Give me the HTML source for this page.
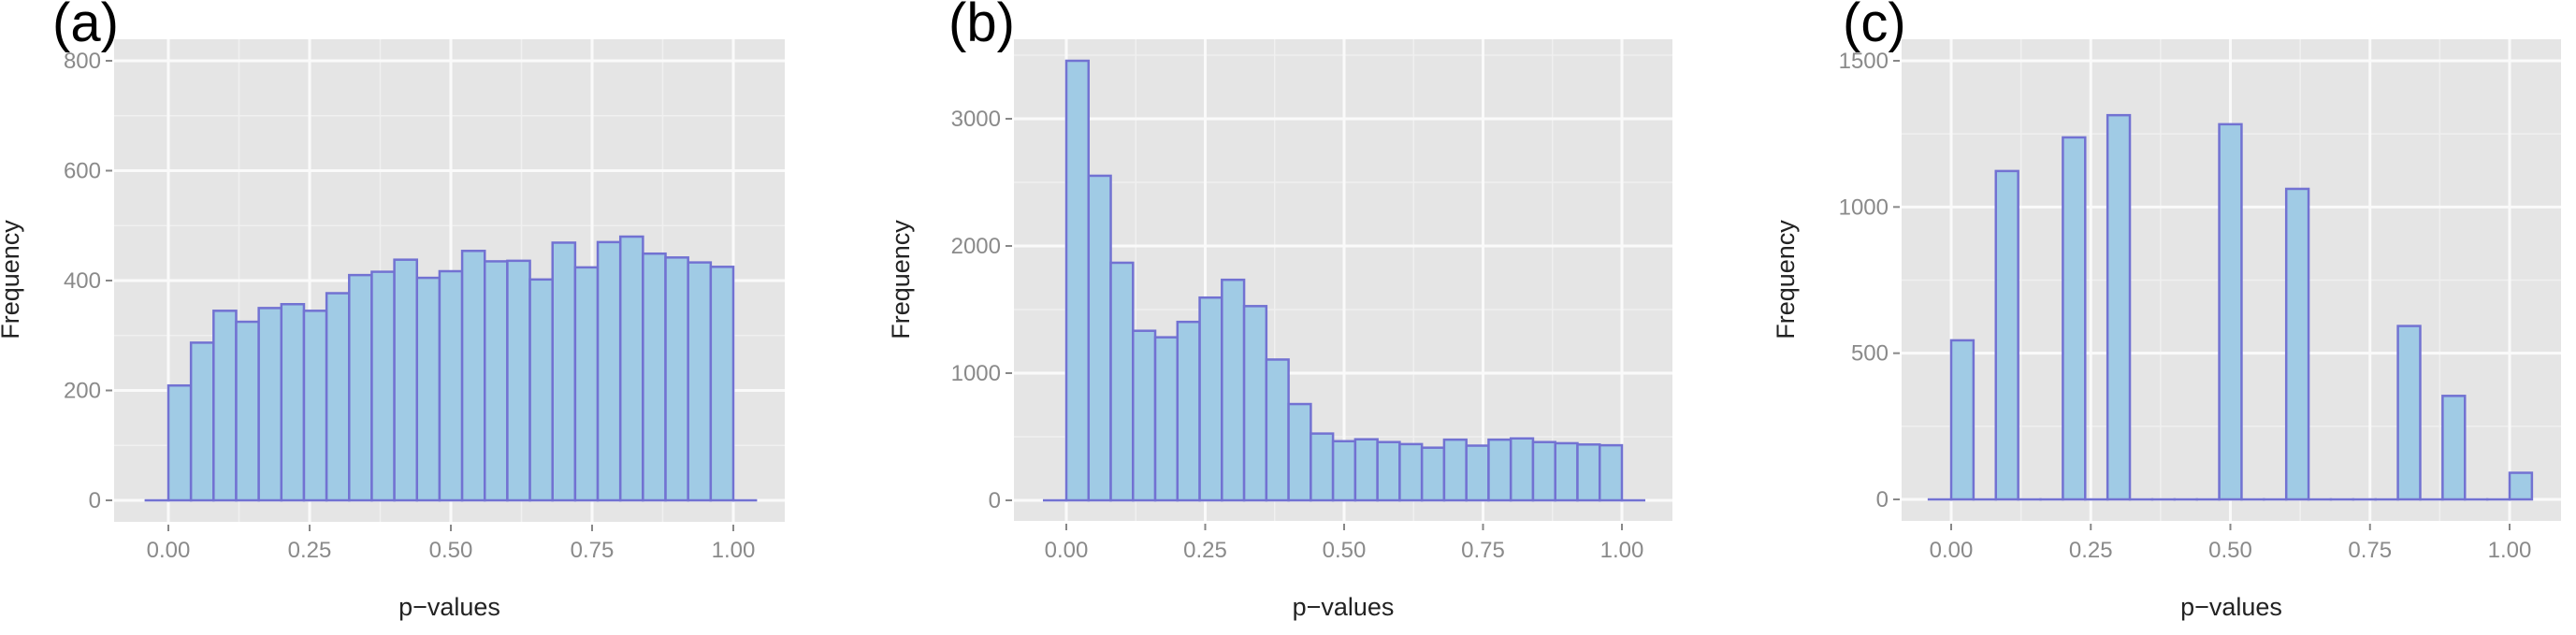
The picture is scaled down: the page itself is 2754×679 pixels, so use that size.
<!DOCTYPE html>
<html><head><meta charset="utf-8"><style>
html,body{margin:0;padding:0;background:#fff;}
svg{display:block;}
text{font-family:"Liberation Sans",sans-serif;}
</style></head><body>
<svg id="chart" width="2754" height="679" viewBox="0 0 2754 679" xmlns="http://www.w3.org/2000/svg"></svg>
<script>
// bins are 0.04 wide from -0.04 to 1.04 (27 bins)
const binStart = -0.04;
const binWidth = 0.04;
const countsA = [0,209,287,345,325,350,357,345,377,410,416,438,405,417,454,435,436,402,469,424,470,480,449,442,433,425,0];
const countsB = [0,3456,2552,1868,1333,1282,1403,1594,1734,1527,1107,757,525,465,480,458,442,414,477,430,477,487,458,449,439,433,0];
const countsC = [0,544,0,1123,0,0,1238,0,1314,0,0,0,0,1283,0,0,1062,0,0,0,0,593,0,354,0,0,91];
const xTicks = [0, 0.25, 0.5, 0.75, 1.0];
const xTickLabels = ["0.00","0.25","0.50","0.75","1.00"];
const yTicksA = [0,200,400,600,800];
const yTicksB = [0,1000,2000,3000];
const yTicksC = [0,500,1000,1500];

const NS = "http://www.w3.org/2000/svg";
const svg = document.getElementById('chart');
function mk(tag, attrs, parent){
  const e = document.createElementNS(NS, tag);
  for (const k in attrs) e.setAttribute(k, attrs[k]);
  (parent||svg).appendChild(e);
  return e;
}

function panel(cfg){
  const g = mk('g', {});
  
  
  const xs = v => cfg.x0 + (v) * cfg.xu;
  const ys = v => cfg.zeroY - v * cfg.yu;
  const bg = mk('rect', {x:cfg.left, y:cfg.top, width:cfg.right-cfg.left, height:cfg.bottom-cfg.top, fill:'#e5e5e5'}, g);
  
  
  // minor grid
  const step = cfg.yTicks[1]-cfg.yTicks[0];
  for (let v = step/2; ys(v) > cfg.top; v += step) {
    mk('line', {x1:cfg.left, x2:cfg.right, y1:ys(v), y2:ys(v), stroke:'#f0f0f0', 'stroke-width':1.5}, g);
  }
  for (let i=0;i<xTicks.length;i++){
    for (const d of [-0.125, 0.125]) {
      const v = xTicks[i]+d;
      if (xs(v) > cfg.left && xs(v) < cfg.right && (d<0 || i==xTicks.length-1))
        mk('line', {x1:xs(v), x2:xs(v), y1:cfg.top, y2:cfg.bottom, stroke:'#f0f0f0', 'stroke-width':1.5}, g);
    }
  }
  // major grid + ticks
  cfg.yTicks.forEach(v => {
    mk('line', {x1:cfg.left, x2:cfg.right, y1:ys(v), y2:ys(v), stroke:'#fafafa', 'stroke-width':3}, g);
    mk('line', {x1:cfg.left-9, x2:cfg.left-2, y1:ys(v), y2:ys(v), stroke:'#888', 'stroke-width':2}, g);
    const t = mk('text', {x:cfg.left-14, y:ys(v)+8, 'text-anchor':'end', 'font-size':24, fill:'#8a8a8a'}, g);
    t.textContent = String(v);
    
    
  });
  xTicks.forEach((v,i) => {
    mk('line', {x1:xs(v), x2:xs(v), y1:cfg.top, y2:cfg.bottom, stroke:'#fafafa', 'stroke-width':3}, g);
    mk('line', {x1:xs(v), x2:xs(v), y1:cfg.bottom+3, y2:cfg.bottom+10, stroke:'#888', 'stroke-width':2}, g);
    const t = mk('text', {x:xs(v), y:596, 'text-anchor':'middle', 'font-size':24, fill:'#8a8a8a'}, g);
    t.textContent = xTickLabels[i];
    
    
  });
  // bars
  cfg.counts.forEach((c,i) => {
    const a = binStart + i*binWidth, b = a + binWidth;
    const r = mk('rect', {x:xs(a), y:ys(c), width:xs(b)-xs(a), height:Math.max(ys(0)-ys(c),0.01),
      fill:'#a0cbe5', stroke:'#7272d2', 'stroke-width':2.5}, g);
    
    
  });
  // titles
  const xt = mk('text', {x:(cfg.left+cfg.right)/2, y:658, 'text-anchor':'middle', 'font-size':27, fill:'#222'}, g);
  xt.textContent = 'p\u2212values';
  
  
  const yt = mk('text', {x:0, y:0, 'text-anchor':'middle', 'font-size':27, fill:'#222',
    transform:'translate(' + cfg.yTitleX + ',299) rotate(-90)'}, g);
  yt.textContent = 'Frequency';
  
  
  const lb = mk('text', {x:cfg.labelX, y:44, 'font-size':58, fill:'#000', 'font-family':'"DejaVu Sans","Liberation Sans",sans-serif'}, g);
  lb.textContent = '(' + cfg.id + ')';
  
  
}

panel({id:'a', counts:countsA, yTicks:yTicksA, left:122, right:839, top:42, bottom:558, zeroY:535, yu:(535-65)/800, x0:180, xu:604, yTitleX:20, labelX:56});
panel({id:'b', counts:countsB, yTicks:yTicksB, left:1084, right:1788, top:42, bottom:557, zeroY:535, yu:(535-127)/3000, x0:1140, xu:594, yTitleX:972, labelX:1014});
panel({id:'c', counts:countsC, yTicks:yTicksC, left:2033, right:2738, top:42, bottom:557, zeroY:534, yu:(534-65)/1500, x0:2086, xu:597, yTitleX:1918, labelX:1970});
</script>
</body></html>
